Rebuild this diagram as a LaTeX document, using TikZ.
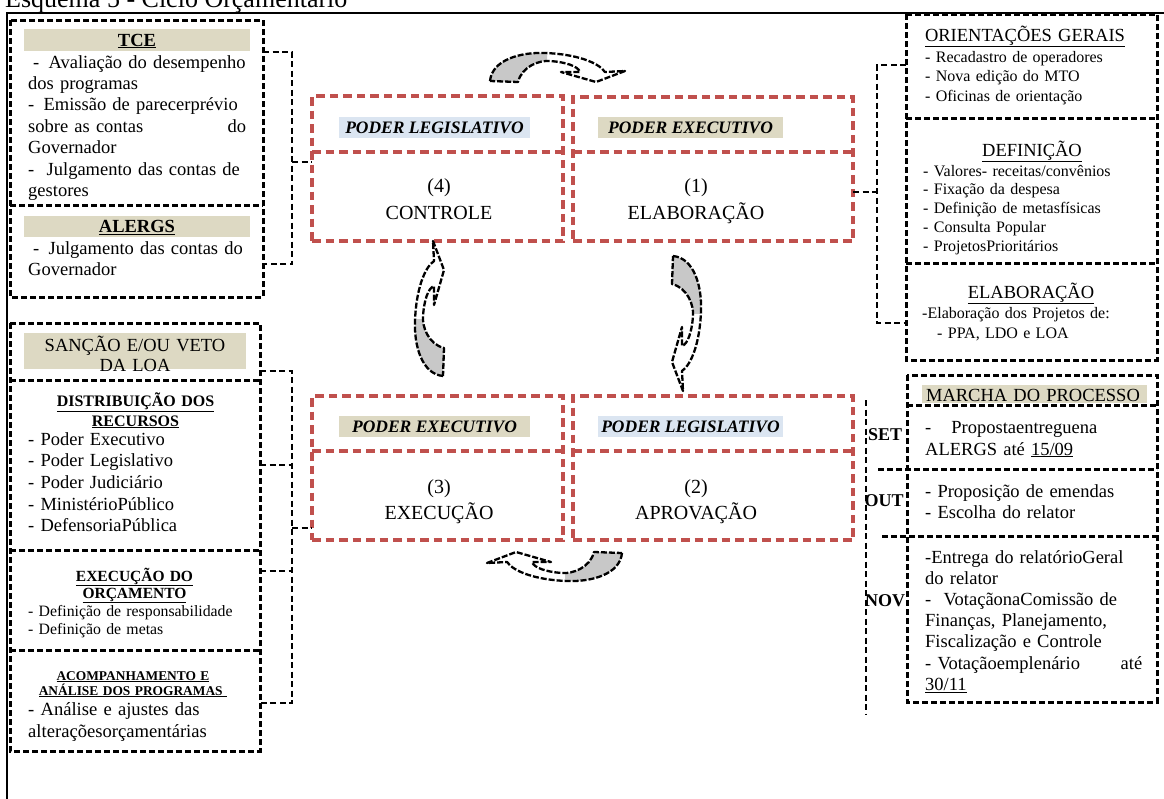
\documentclass[tikz,border=0pt]{standalone}
\usepackage{fontspec}
\setmainfont{Liberation Serif}
\newcommand\fs[2]{\fontsize{#1}{#2}\selectfont}
\definecolor{beige}{HTML}{DDD9C3}
\definecolor{lblue}{HTML}{DBE5F1}
\definecolor{wred}{HTML}{C0504D}
\definecolor{agray}{HTML}{C8C8C8}
\tikzset{
  bx/.style 2 args={minimum width=#1pt, minimum height=#2pt, anchor=north west, inner sep=0pt, outer sep=0pt},
  bbox/.style={draw=black, line width=3pt, dash pattern=on 6pt off 3pt},
  conn/.style={draw=black, line width=2.8pt, dash pattern=on 6pt off 3.5pt},
  rbox/.style={draw=wred, line width=3.2pt, dash pattern=on 8.5pt off 5pt},
  txt/.style={anchor=base west, inner sep=0pt, align=left, text width=#1},
  ctxt/.style={anchor=base, inner sep=0pt, align=center, text width=#1},
  lab/.style={inner sep=0pt, minimum width=#1, minimum height=21pt, font=\fs{17.5}{20}\bfseries\itshape, text height=11.5pt, text depth=0pt},
  hdr/.style 2 args={fill=beige, inner sep=0pt, minimum width=#1pt, minimum height=#2pt, text height=12pt, text depth=0pt},
  frame/.style={draw=black, line width=2pt},
  carrow/.style={draw=black, line width=2.3pt, dash pattern=on 6pt off 2pt, line join=round},
  curvarr/.pic={
    \fill[white] (-67,13) .. controls (-65,-8) and (-37,-16) .. (-12,-15) .. controls (18,-14) and (41,-6) .. (48,4) -- (68,3) -- (39,14) -- (4,4) -- (23,4) .. controls (21,-2) and (8,-6) .. (-7,-7) .. controls (-17,-8) and (-35,-2) .. (-39,14) -- cycle;
    \begin{scope}
      \clip (-80,-30) rectangle (-10,30);
      \fill[agray] (-67,13) .. controls (-65,-8) and (-37,-16) .. (-12,-15) .. controls (18,-14) and (41,-6) .. (48,4) -- (68,3) -- (39,14) -- (4,4) -- (23,4) .. controls (21,-2) and (8,-6) .. (-7,-7) .. controls (-17,-8) and (-35,-2) .. (-39,14) -- cycle;
    \end{scope}
    \draw[carrow] (-67,13) .. controls (-65,-8) and (-37,-16) .. (-12,-15) .. controls (18,-14) and (41,-6) .. (48,4) -- (68,3) -- (39,14) -- (4,4) -- (23,4) .. controls (21,-2) and (8,-6) .. (-7,-7) .. controls (-17,-8) and (-35,-2) .. (-39,14) -- cycle;
  }
}
\begin{document}
\begin{tikzpicture}[x=1pt,y=-1pt]
\useasboundingbox (0,0) rectangle (1164,798);
% title and frame
\node[anchor=base west, inner sep=0pt, font=\fs{26}{30}] (title) at (5,7) {Esquema 5 - Ciclo Orçamentário};
\draw[frame] (7,815) -- (7,13) -- (1175,13);

% ---------- left column ----------
\node[bx={253}{185}] (tce) at (10,20) {};
\node[bx={253}{92}] (alergs) at (10,205) {};
\draw[bbox] (tce.north west) rectangle (alergs.south east);
\draw[bbox] (alergs.north west) -- (alergs.north east);
\node[hdr={226}{22}, font=\fs{18.5}{21}\bfseries] (tceh) at (137,40) {\underline{TCE}};
\node[txt=218pt, font=\fs{18.5}{21.4}] (tcet) at (28,68) {\hspace*{5pt}- \,Avaliação do desempenho\\dos programas\\- \,Emissão de parecerprévio\\sobre as contas\hfill do\\Governador\\- \ Julgamento das contas de\\gestores};
\node[hdr={226}{21}, font=\fs{18.5}{21}\bfseries] (alergsh) at (137,226.5) {\underline{ALERGS}};
\node[txt=218pt, font=\fs{18.5}{21.4}] (alergst) at (28,254) {\hspace*{5pt}- \,Julgamento das contas do\\Governador};

\node[bx={250}{57}] (sancao) at (10,323) {};
\node[bx={250}{170}] (distrib) at (10,380) {};
\node[bx={250}{100}] (execorc) at (10,550) {};
\node[bx={250}{101}] (acomp) at (10,650) {};
\draw[bbox] (sancao.north west) rectangle (acomp.south east);
\draw[bbox] (distrib.north west) -- (distrib.north east);
\draw[bbox] (execorc.north west) -- (execorc.north east);
\draw[bbox] (acomp.north west) -- (acomp.north east);
\node[fill=beige, inner sep=0pt, minimum width=222pt, minimum height=36pt] (sanh) at (135,351) {};
\node[ctxt=240pt, font=\fs{18.5}{20}] (sant) at (135,351) {SANÇÃO E/OU VETO\\DA LOA};
\node[ctxt=240pt, font=\fs{16}{20}\bfseries] (distt) at (135.5,406) {\underline{DISTRIBUIÇÃO DOS}\\\underline{RECURSOS}};
\node[txt=225pt, font=\fs{18.5}{21.7}] (disti) at (28,445) {- Poder Executivo\\- Poder Legislativo\\- Poder Judiciário\\- MinistérioPúblico\\- DefensoriaPública};
\node[ctxt=240pt, font=\fs{15.5}{17}\bfseries] (exect) at (134.5,581) {\underline{EXECUÇÃO DO}\\\underline{ORÇAMENTO}};
\node[txt=230pt, font=\fs{15.8}{18}] (execi) at (28,616) {- Definição de responsabilidade\\- Definição de metas};
\node[ctxt=240pt, font=\fs{13.4}{15}\bfseries] (acompt) at (133,680) {\underline{ACOMPANHAMENTO E}\\\underline{ANÁLISE DOS PROGRAMAS\ }};
\node[txt=230pt, font=\fs{18.6}{22}] (acompi) at (28,715) {- Análise e ajustes das\\alteraçõesorçamentárias};

% ---------- center boxes ----------
\node[rbox, bx={251}{145}] (c4) at (312,96) {};
\node[rbox, bx={280}{144}] (e1) at (573,97) {};
\node[rbox, bx={251}{144}] (x3) at (312,396) {};
\node[rbox, bx={280}{144}] (a2) at (573,396) {};
\draw[rbox] (c4.west |- 0,152) -- (c4.east |- 0,152);
\draw[rbox] (e1.west |- 0,152) -- (e1.east |- 0,152);
\draw[rbox] (x3.west |- 0,451) -- (x3.east |- 0,451);
\draw[rbox] (a2.west |- 0,451) -- (a2.east |- 0,451);

\node[lab=191pt, fill=lblue] (lbl1) at (434.5,127.5) {PODER LEGISLATIVO};
\node[lab=185pt, fill=beige] (lbl2) at (690.5,127.5) {PODER EXECUTIVO};
\node[lab=191pt, fill=beige] (lbl3) at (434.5,426.5) {PODER EXECUTIVO};
\node[lab=185pt, fill=lblue] (lbl4) at (690.5,426.5) {PODER LEGISLATIVO};

\node[ctxt=220pt, font=\fs{20}{27}] (n4) at (439,192) {(4)\\CONTROLE};
\node[ctxt=220pt, font=\fs{20}{27}] (n1) at (696,192) {(1)\\ELABORAÇÃO};
\node[ctxt=220pt, font=\fs{20}{26}] (n3) at (439,493) {(3)\\EXECUÇÃO};
\node[ctxt=220pt, font=\fs{20}{26}] (n2) at (696,493) {(2)\\APROVAÇÃO};

% left connectors
\coordinate (lj1) at (292,162);
\coordinate (lj2) at (292,528);
\draw[conn] (tce.east |- 0,52) -- (292,52) -- (292,264) -- (alergs.east |- 0,264);
\draw[conn] (lj1) -- (c4.west |- lj1);
\draw[conn] (sancao.east |- 0,371) -- (292,371) -- (292,703) -- (acomp.east |- 0,703);
\draw[conn] (distrib.east |- 0,465) -- (292,465);
\draw[conn] (execorc.east |- 0,571) -- (292,571);
\draw[conn] (lj2) -- (x3.west |- lj2);

% curved arrows
\pic (arrT) at (557,68) {curvarr};
\pic[rotate=-90] (arrR) at (686,323) {curvarr};
\pic[rotate=180] (arrB) at (555,566) {curvarr};
\pic[rotate=90] (arrL) at (430,309) {curvarr};

% ---------- right column ----------
\node[bx={251}{104}] (orient) at (906,14) {};
\node[bx={251}{145}] (defin) at (906,118) {};
\node[bx={251}{97}] (elabr) at (906,263) {};
\draw[bbox] (orient.north west) rectangle (elabr.south east);
\draw[bbox] (defin.north west) -- (defin.north east);
\draw[bbox] (elabr.north west) -- (elabr.north east);
\node[ctxt=240pt, font=\fs{18.5}{21}] (orientt) at (1025,41) {\underline{ORIENTAÇÕES GERAIS}};
\node[txt=225pt, font=\fs{16}{19.5}] (orienti) at (925,62) {- Recadastro de operadores\\- Nova edição do MTO\\- Oficinas de orientação};
\node[ctxt=240pt, font=\fs{18.5}{21}] (defint) at (1032,156) {\underline{DEFINIÇÃO}};
\node[txt=228pt, font=\fs{16}{18.8}] (defini) at (923,176) {- Valores- receitas/convênios\\- Fixação da despesa\\- Definição de metasfísicas\\- Consulta Popular\\- ProjetosPrioritários};
\node[ctxt=240pt, font=\fs{18.5}{21}] (elabrt) at (1031,298) {\underline{ELABORAÇÃO}};
\node[txt=228pt, font=\fs{16}{20}] (elabri) at (922,318) {-Elaboração dos Projetos de:\\\hspace*{15pt}- PPA, LDO e LOA};

\coordinate (rj) at (877,192);
\draw[conn] (orient.west |- 0,65) -- (877,65) -- (877,323) -- (elabr.west |- 0,323);
\draw[conn] (e1.east |- rj) -- (rj);

\node[bx={250}{30}] (marcha) at (907,375) {};
\node[bx={250}{64}] (setb) at (907,405) {};
\node[bx={250}{67}] (outb) at (907,469) {};
\node[bx={250}{166}] (novb) at (907,536) {};
\coordinate (so) at (878,469);
\coordinate (on) at (882,536);
\draw[bbox] (marcha.north west) rectangle (novb.south east);
\draw[bbox] (setb.north west) -- (setb.north east);
\draw[bbox] (so) -- (outb.north east);
\draw[bbox] (on) -- (novb.north east);
\node[fill=beige, inner sep=0pt, minimum width=225pt, minimum height=18pt] (marchah) at (1034.5,394) {};
\node[ctxt=240pt, font=\fs{18.5}{21}] (marchat) at (1033,401) {MARCHA DO PROCESSO};
\node[txt=225pt, font=\fs{18.5}{22}] (sett) at (925,433) {-\hspace{20pt}Propostaentreguena\\ALERGS até \underline{15/09}};
\node[txt=225pt, font=\fs{18.5}{21}] (outt) at (925,497) {- Proposição de emendas\\- Escolha do relator};
\node[txt=217pt, font=\fs{18.5}{21.2}] (novt) at (925,563) {-Entrega do relatórioGeral\\do relator\\- \ VotaçãonaComissão de\\Finanças, Planejamento,\\Fiscalização e Controle\\- Votaçãoemplenário\hfill até\\\underline{30/11}};

\coordinate (mt) at (866,400);
\coordinate (mb) at (866,715);
\draw[conn] (mt) -- (mb);
\node[ctxt=50pt, font=\fs{18}{20}\bfseries] (mset) at (885,440) {SET};
\node[ctxt=50pt, font=\fs{18}{20}\bfseries] (mout) at (884,506) {OUT};
\node[ctxt=50pt, font=\fs{18}{20}\bfseries] (mnov) at (885,606) {NOV};
\end{tikzpicture}
\end{document}
